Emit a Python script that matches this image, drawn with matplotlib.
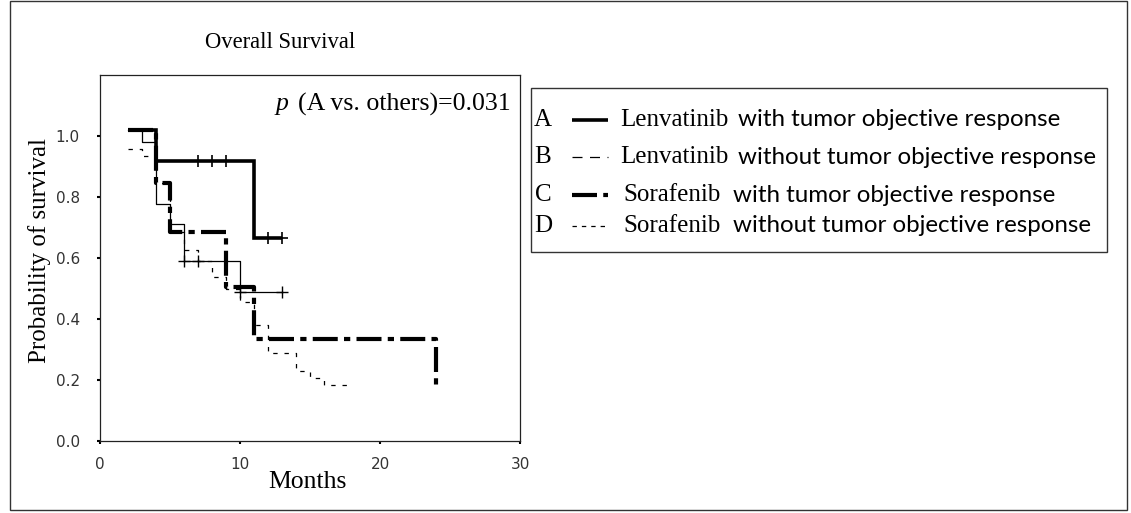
import matplotlib
matplotlib.use("Agg")
import matplotlib.pyplot as plt
from matplotlib.lines import Line2D
from matplotlib.patches import Rectangle
import numpy as np

# ---------------- data ----------------
a_times = [2, 4, 11, 13]
a_surv = [1.02, 0.917, 0.667, 0.667]
a_cens_t = [7, 8, 9, 12, 13]

b_times = [2, 3, 4, 5, 6, 10, 13]
b_surv = [1.02, 0.98, 0.777, 0.711, 0.59, 0.488, 0.488]
b_cens_t = [6, 7, 10, 13]

c_times = [2, 4, 5, 9, 11, 24]
c_surv = [1.02, 0.846, 0.684, 0.504, 0.336, 0.168]

d_times = [2, 3, 4, 5, 6, 7, 8, 9, 10, 11, 12, 14, 15, 16, 18]
d_surv = [0.957, 0.935, 0.846, 0.684, 0.625, 0.59, 0.537, 0.50, 0.455, 0.38, 0.29,
          0.23, 0.206, 0.183, 0.183]

x_ticks = [0, 10, 20, 30]
y_ticks = [0.0, 0.2, 0.4, 0.6, 0.8, 1.0]

legend_letters = ["A", "B", "C", "D"]
legend_drug = ["Lenvatinib", "Lenvatinib", "Sorafenib", "Sorafenib"]
legend_resp = ["with tumor objective response", "without tumor objective response",
               "with tumor objective response", "without tumor objective response"]

SERIF = "Liberation Serif"
SANS = "Lato"

W, H = 1131, 513
fig = plt.figure(figsize=(W / 100, H / 100), dpi=100)

def fx(px):
    return px / W

def fy(py):
    return 1 - py / H

# main axes
ax = fig.add_axes([fx(100), fy(441), (520 - 100) / W, (441 - 75) / H])
ax.set_xlim(0, 30)
ax.set_ylim(0, 1.2)

def surv_at(times, surv, t):
    idx = np.searchsorted(times, t, side="right") - 1
    return surv[idx]

styleA = dict(color="black", lw=2.6, solid_joinstyle="miter", solid_capstyle="butt")
styleB = dict(color="black", lw=0.9)
styleC = dict(color="black", lw=3.0, dashes=(6, 1.5, 1.5, 1.5), dash_capstyle="butt")
styleD = dict(color="black", lw=0.9, dashes=(3.5, 5.5))

ax.step(d_times, d_surv, where="post", **styleD)
ax.step(c_times, c_surv, where="post", **styleC)
ax.step(b_times, b_surv, where="post", **styleB)
ax.step(a_times, a_surv, where="post", **styleA)

ax.plot(a_cens_t, [surv_at(a_times, a_surv, t) for t in a_cens_t], ls="none",
        marker="+", ms=9, mew=1.2, color="black")
ax.plot(b_cens_t, [surv_at(b_times, b_surv, t) for t in b_cens_t], ls="none",
        marker="+", ms=9, mew=1.0, color="black")

ax.set_xticks(x_ticks)
ax.set_yticks(y_ticks)
ax.set_xticklabels([str(v) for v in x_ticks])
ax.set_yticklabels([f"{v:.1f}" for v in y_ticks])
ax.tick_params(direction="out", length=2.5, width=1.5, labelsize=11, labelcolor="#333333")
ax.tick_params(axis="y", pad=12)
ax.tick_params(axis="x", pad=9)
for s in ax.spines.values():
    s.set_linewidth(0.9)
    s.set_color("#222222")

fig.text(fx(280), fy(42), "Overall Survival", fontsize=16.3, family=SERIF, ha="center", va="center")
fig.text(fx(307), fy(482), "Months", fontsize=18.5, family=SERIF, ha="center", va="center")
fig.text(fx(40), fy(251), "Probability of survival", fontsize=18, family=SERIF,
         ha="center", va="center", rotation=90)

# overlay for legend, p-value and frame
ov = fig.add_axes([0, 0, 1, 1])
ov.set_xlim(0, W)
ov.set_ylim(H, 0)
ov.axis("off")
ov.add_patch(Rectangle((10, 1), 1117, 509, fill=False, lw=1.0, ec="#333333"))
ov.add_patch(Rectangle((531, 88), 576, 164, fill=False, lw=1.0, ec="#333333"))

ov.text(276, 104, "p", fontsize=18.5, family=SERIF, style="italic", ha="left", va="center")
ov.text(511, 104, "(A vs. others)=0.031", fontsize=18.6, family=SERIF, ha="right", va="center")

rows_y = [120, 157, 195, 226]
samples = [
    dict(color="black", lw=2.6, solid_capstyle="butt"),
    dict(color="black", lw=0.9, dashes=(8, 6)),
    dict(color="black", lw=3.0, dashes=(6, 1.5, 1.5, 1.5)),
    dict(color="black", lw=0.9, dashes=(3.5, 4)),
]
for i in range(4):
    y = rows_y[i]
    ov.text(543, y, legend_letters[i], fontsize=18, family=SERIF, ha="center", va="center")
    ov.add_line(Line2D([572, 608], [y, y], **samples[i]))
    x0 = 620 if i < 2 else 623
    ov.text(x0, y, legend_drug[i], fontsize=18, family=SERIF, ha="left", va="center")
    x1 = 738 if i < 2 else 733
    ov.text(x1, y, legend_resp[i], fontsize=17.4, family=SANS, ha="left", va="center")

fig.savefig("out.png", dpi=100)
